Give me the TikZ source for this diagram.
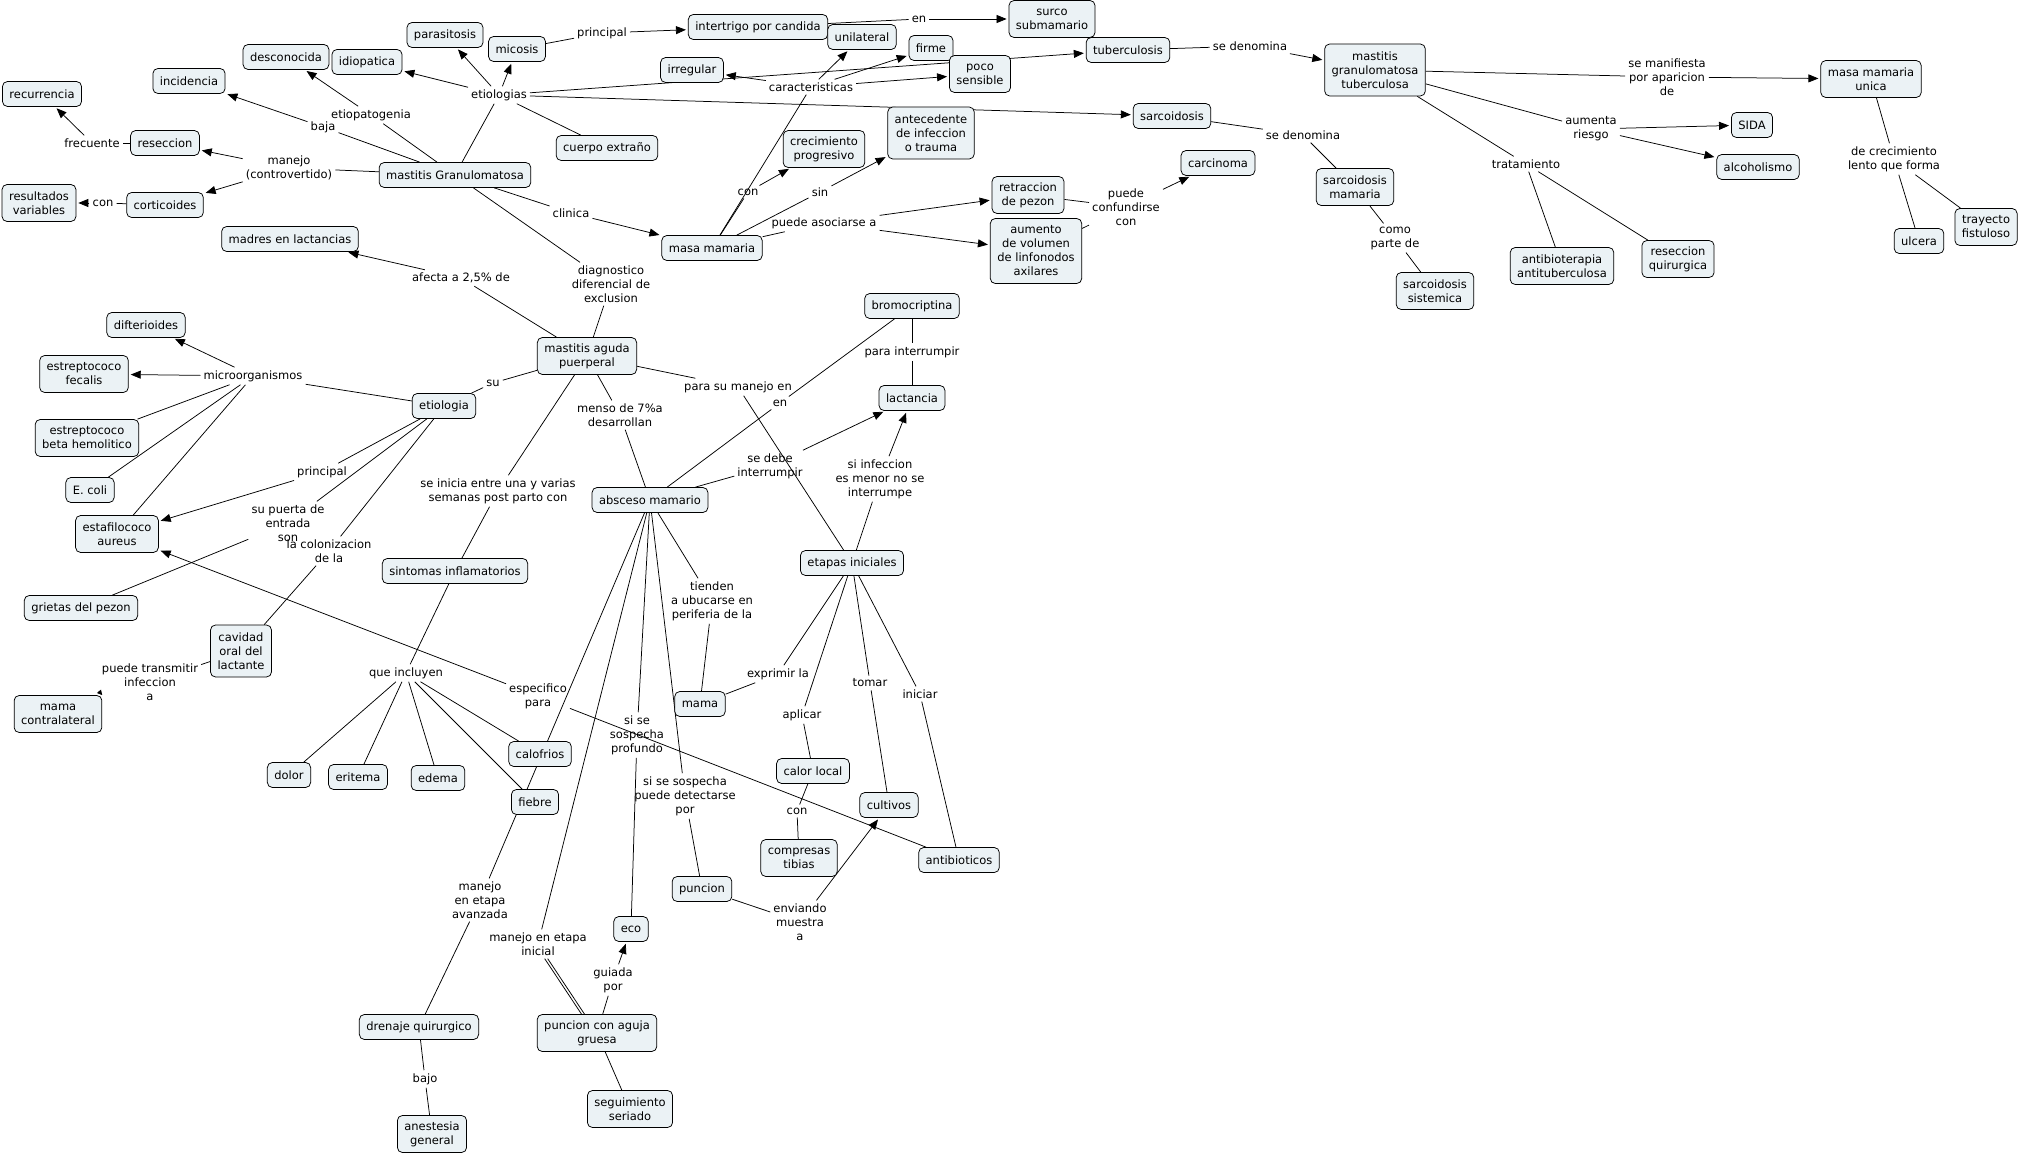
\documentclass[tikz,border=0pt]{standalone}
\usepackage{fontspec}
\setmainfont{DejaVu Sans}
\usetikzlibrary{arrows.meta}
\definecolor{cfill}{RGB}{235,242,245}
\pgfdeclarelayer{bgfill}
\pgfdeclarelayer{background}
\pgfsetlayers{bgfill,background,main}
\begin{document}
\begin{tikzpicture}[x=1pt,y=-1pt,
  every node/.style={font=\fontsize{11.5}{14}\selectfont},
  concept/.style={draw=black, fill=cfill, rounded corners=5pt, align=center, inner xsep=7pt, inner ysep=3pt, minimum height=25pt, line width=0.75pt},
  two/.style={minimum height=37pt},
  three/.style={minimum height=52pt},
  four/.style={minimum height=65pt},
  lbl/.style={align=center, inner sep=3pt},
  conn/.style={line width=0.75pt},
  arr/.style={conn, -{Triangle[length=10pt,width=8pt]}, shorten >=2pt},
  smallarr/.style={conn, -{Triangle[length=5pt,width=5pt]}},
]
\begin{pgfonlayer}{bgfill}
\fill[white] (0,0) rectangle (2022,1158);
\end{pgfonlayer}
\useasboundingbox (0,0) rectangle (2022,1158);

% ---------------- concepts ----------------
\node[concept] (rec) at (42,94) {recurrencia};
\node[concept] (desc) at (286,57) {desconocida};
\node[concept] (idio) at (367,62) {idiopatica};
\node[concept] (para) at (445,35) {parasitosis};
\node[concept] (mico) at (517,49) {micosis};
\node[concept] (inci) at (189,81) {incidencia};
\node[concept] (rese) at (165,143) {reseccion};
\node[concept] (cort) at (165,205) {corticoides};
\node[concept,two] (resv) at (39,203) {resultados\\variables};
\node[concept] (mg) at (455,175) {mastitis Granulomatosa};
\node[concept] (madr) at (290,239) {madres en lactancias};
\node[concept] (dift) at (146,325) {difterioides};
\node[concept,two] (efec) at (84,374) {estreptococo\\fecalis};
\node[concept] (etio) at (444,406) {etiologia};
\node[concept,two] (ebeta) at (87,438) {estreptococo\\beta hemolitico};
\node[concept] (ecoli) at (90,490) {E. coli};
\node[concept,two] (esta) at (117,534) {estafilococo\\aureus};
\node[concept] (grie) at (81,608) {grietas del pezon};
\node[concept,three] (cavi) at (241,651) {cavidad\\oral del\\lactante};
\node[concept,two] (mcon) at (58,714) {mama\\contralateral};
\node[concept] (sint) at (455,571) {sintomas inflamatorios};
\node[concept] (dolor) at (289,775) {dolor};
\node[concept] (erit) at (358,777) {eritema};
\node[concept] (edema) at (438,778) {edema};
\node[concept] (dren) at (419,1027) {drenaje quirurgico};
\node[concept,two] (anes) at (432,1134) {anestesia\\general};
\node[concept] (calo) at (540,754) {calofrios};
\node[concept] (fieb) at (535,802) {fiebre};
\node[concept,two] (pcag) at (597,1033) {puncion con aguja\\gruesa};
\node[concept,two] (segu) at (630,1109) {seguimiento\\seriado};
\node[concept] (eco) at (631,929) {eco};
\node[concept] (punc) at (702,889) {puncion};
\node[concept,two] (comp) at (799,858) {compresas\\tibias};
\node[concept] (calor) at (813,771) {calor local};
\node[concept] (cult) at (889,805) {cultivos};
\node[concept] (anti) at (959,860) {antibioticos};
\node[concept] (lact) at (912,398) {lactancia};
\node[concept] (absc) at (650,500) {absceso mamario};
\node[concept] (etap) at (852,563) {etapas iniciales};
\node[concept] (mama) at (700,704) {mama};
\node[concept,two] (map) at (587,356) {mastitis aguda\\puerperal};
\node[concept] (inter) at (758,27) {intertrigo por candida};
\node[concept] (unil) at (862,37) {unilateral};
\node[concept] (irre) at (692,70) {irregular};
\node[concept] (firm) at (931,48) {firme};
\node[concept,two] (poco) at (980,74) {poco\\sensible};
\node[concept] (cuer) at (607,148) {cuerpo extraño};
\node[concept,two] (crec) at (824,149) {crecimiento\\progresivo};
\node[concept,three] (ante) at (931,133) {antecedente\\de infeccion\\o trauma};
\node[concept] (mm) at (712,248) {masa mamaria};
\node[concept] (brom) at (912,306) {bromocriptina};
\node[concept,two] (surco) at (1052,19) {surco\\submamario};
\node[concept] (tube) at (1128,50) {tuberculosis};
\node[concept] (sarc) at (1172,116) {sarcoidosis};
\node[concept] (carc) at (1218,163) {carcinoma};
\node[concept,two] (retr) at (1028,195) {retraccion\\de pezon};
\node[concept,four] (aume) at (1036,251) {aumento\\de volumen\\de linfonodos\\axilares};
\node[concept,three] (mgt) at (1375,70) {mastitis\\granulomatosa\\tuberculosa};
\node[concept,two] (sarm) at (1355,187) {sarcoidosis\\mamaria};
\node[concept,two] (sars) at (1435,291) {sarcoidosis\\sistemica};
\node[concept,two] (mmu) at (1871,79) {masa mamaria\\unica};
\node[concept] (sida) at (1752,125) {SIDA};
\node[concept] (alco) at (1758,167) {alcoholismo};
\node[concept,two] (atb) at (1562,266) {antibioterapia\\antituberculosa};
\node[concept,two] (resq) at (1678,259) {reseccion\\quirurgica};
\node[concept] (ulc) at (1919,241) {ulcera};
\node[concept,two] (tray) at (1986,227) {trayecto\\fistuloso};

% ---------------- link labels ----------------
\node[lbl] (l_frec) at (92,143) {frecuente};
\node[lbl] (l_con1) at (103,203) {con};
\node[lbl] (l_man) at (289,168) {manejo\\(controvertido)};
\node[lbl] (l_baja) at (323,127) {baja};
\node[lbl] (l_etpg) at (371,115) {etiopatogenia};
\node[lbl] (l_etis) at (499,95) {etiologias};
\node[lbl] (l_afec) at (461,278) {afecta a 2,5\% de};
\node[lbl] (l_micr) at (253,376) {microorganismos};
\node[lbl] (l_su) at (493,383) {su};
\node[lbl] (l_prin1) at (602,33) {principal};
\node[lbl] (l_en1) at (919,19) {en};
\node[lbl] (l_car) at (811,87) {caracteristicas};
\node[lbl] (l_con2) at (748,192) {con};
\node[lbl] (l_sin) at (820,192) {sin};
\node[lbl] (l_clin) at (571,213) {clinica};
\node[lbl] (l_puas) at (824,223) {puede asociarse a};
\node[lbl] (l_diag) at (611,284) {diagnostico\\diferencial de\\exclusion};
\node[lbl] (l_pint) at (912,352) {para interrumpir};
\node[lbl] (l_psme) at (738,387) {para su manejo en};
\node[lbl] (l_en2) at (780,403) {en};
\node[lbl] (l_men) at (620,415) {menso de 7\%a\\desarrollan};
\node[lbl] (l_sdeb) at (770,466) {se debe\\interrumpir};
\node[lbl] (l_sinf) at (880,479) {si infeccion\\es menor no se\\interrumpe};
\node[lbl] (l_tien) at (712,601) {tienden\\a ubucarse en\\periferia de la};
\node[lbl] (l_expr) at (778,674) {exprimir la};
\node[lbl] (l_toma) at (870,683) {tomar};
\node[lbl] (l_inic) at (920,694) {iniciar};
\node[lbl] (l_apli) at (802,715) {aplicar};
\node[lbl] (l_ssp) at (637,735) {si se\\sospecha\\profundo};
\node[lbl] (l_espe) at (538,696) {especifico\\para};
\node[lbl] (l_prin2) at (322,472) {principal};
\node[lbl] (l_puer) at (288,523) {su puerta de\\entrada\\son};
\node[lbl] (l_colo) at (329,551) {la colonizacion\\de la};
\node[lbl] (l_sein) at (498,491) {se inicia entre una y varias\\semanas post parto con};
\node[lbl] (l_ptra) at (150,682) {puede transmitir\\infeccion\\a};
\node[lbl] (l_quei) at (406,673) {que incluyen};
\node[lbl] (l_mava) at (480,900) {manejo\\en etapa\\avanzada};
\node[lbl] (l_bajo) at (425,1079) {bajo};
\node[lbl] (l_mini) at (538,944) {manejo en etapa\\inicial};
\node[lbl] (l_guia) at (613,980) {guiada\\por};
\node[lbl] (l_sspd) at (685,796) {si se sospecha\\puede detectarse\\por};
\node[lbl] (l_con3) at (797,811) {con};
\node[lbl] (l_envi) at (800,922) {enviando\\muestra\\a};
\node[lbl] (l_sden1) at (1250,46) {se denomina};
\node[lbl] (l_sden2) at (1303,135) {se denomina};
\node[lbl] (l_pcon) at (1126,207) {puede\\confundirse\\con};
\node[lbl] (l_como) at (1395,238) {como\\parte de};
\node[lbl] (l_trat) at (1526,164) {tratamiento};
\node[lbl] (l_sman) at (1667,77) {se manifiesta\\por aparicion\\de};
\node[lbl] (l_aumr) at (1591,129) {aumenta\\riesgo};
\node[lbl] (l_decr) at (1894,159) {de crecimiento\\lento que forma};

% ---------------- connectors ----------------
\begin{pgfonlayer}{background}
% mastitis granulomatosa
\draw[conn] (mg) -- (l_etis);
\draw[arr] (l_etis) -- (para);
\draw[arr] (l_etis) -- (mico);
\draw[arr] (l_etis) -- (idio);
\draw[arr] (l_etis) -- (tube);
\draw[arr] (l_etis) -- (sarc);
\draw[conn] (l_etis) -- (cuer);
\draw[conn] (mg) -- (l_etpg);
\draw[arr] (l_etpg) -- (desc);
\draw[conn] (mg) -- (l_baja);
\draw[arr] (l_baja) -- (inci);
\draw[conn] (mg) -- (l_man);
\draw[arr] (l_man) -- (rese);
\draw[arr] (l_man) -- (cort);
\draw[conn] (rese) -- (l_frec);
\draw[arr] (l_frec) -- (rec);
\draw[conn] (cort) -- (l_con1);
\draw[arr] (l_con1) -- (resv);
\draw[conn] (mg) -- (l_clin);
\draw[arr] (l_clin) -- (mm);
\draw[conn] (mg) -- (l_diag);
\draw[conn] (l_diag) -- (map);
\draw[conn] (mico) -- (l_prin1);
\draw[arr] (l_prin1) -- (inter);
\draw[conn] (inter) -- (l_en1);
\draw[arr] (l_en1) -- (surco);
% masa mamaria
\draw[conn] (mm) -- (l_car);
\draw[arr] (l_car) -- (irre);
\draw[arr] (l_car) -- (unil);
\draw[arr] (l_car) -- (firm);
\draw[arr] (l_car) -- (poco);
\draw[conn] (mm) -- (l_con2);
\draw[arr] (l_con2) -- (crec);
\draw[conn] (mm) -- (l_sin);
\draw[arr] (l_sin) -- (ante);
\draw[conn] (mm) -- (l_puas);
\draw[arr] (l_puas) -- (retr);
\draw[arr] (l_puas) -- (aume);
\draw[conn] (retr) -- (l_pcon);
\draw[conn] (aume) -- (l_pcon);
\draw[arr] (l_pcon) -- (carc);
% tuberculosis / sarcoidosis
\draw[conn] (tube) -- (l_sden1);
\draw[arr] (l_sden1) -- (mgt);
\draw[conn] (sarc) -- (l_sden2);
\draw[conn] (l_sden2) -- (sarm);
\draw[conn] (sarm) -- (l_como);
\draw[conn] (l_como) -- (sars);
\draw[conn] (mgt) -- (l_sman);
\draw[arr] (l_sman) -- (mmu);
\draw[conn] (mgt) -- (l_aumr);
\draw[arr] (l_aumr) -- (sida);
\draw[arr] (l_aumr) -- (alco);
\draw[conn] (mgt) -- (l_trat);
\draw[conn] (l_trat) -- (atb);
\draw[conn] (l_trat) -- (resq);
\draw[conn] (mmu) -- (l_decr);
\draw[conn] (l_decr) -- (ulc);
\draw[conn] (l_decr) -- (tray);
% mastitis aguda puerperal
\draw[conn] (map) -- (l_afec);
\draw[arr] (l_afec) -- (madr);
\draw[conn] (map) -- (l_su);
\draw[conn] (l_su) -- (etio);
\draw[conn] (etio) -- (l_micr);
\draw[arr] (l_micr) -- (dift);
\draw[arr] (l_micr) -- (efec);
\draw[conn] (l_micr) -- (ebeta);
\draw[conn] (l_micr) -- (ecoli);
\draw[conn] (l_micr) -- (esta);
\draw[conn] (etio) -- (l_prin2);
\draw[arr] (l_prin2) -- (esta);
\draw[conn] (etio) -- (l_puer);
\draw[conn] (l_puer) -- (grie);
\draw[conn] (etio) -- (l_colo);
\draw[conn] (l_colo) -- (cavi);
\draw[conn] (cavi) -- (l_ptra);
\draw[smallarr] (l_ptra.190) -- (mcon.north east);
\draw[conn] (map) -- (l_sein);
\draw[conn] (l_sein) -- (sint);
\draw[conn] (sint) -- (l_quei);
\draw[conn] (l_quei) -- (dolor);
\draw[conn] (l_quei) -- (erit);
\draw[conn] (l_quei) -- (edema);
\draw[conn] (l_quei) -- (calo);
\draw[conn] (l_quei) -- (fieb);
\draw[conn] (map) -- (l_men);
\draw[conn] (l_men) -- (absc);
\draw[conn] (map) -- (l_psme);
\draw[conn] (l_psme) -- (etap);
\draw[conn] (absc) -- (l_en2);
\draw[conn] (l_en2) -- (brom);
\draw[conn] (brom) -- (l_pint);
\draw[conn] (l_pint) -- (lact);
\draw[conn] (absc) -- (l_sdeb);
\draw[arr] (l_sdeb) -- (lact);
\draw[conn] (etap) -- (l_sinf);
\draw[arr] (l_sinf) -- (lact);
\draw[conn] (etap) -- (l_expr);
\draw[conn] (l_expr) -- (mama);
\draw[conn] (absc) -- (l_tien);
\draw[conn] (l_tien) -- (mama);
\draw[conn] (etap) -- (l_apli);
\draw[conn] (l_apli) -- (calor);
\draw[conn] (calor) -- (l_con3);
\draw[conn] (l_con3) -- (comp);
\draw[conn] (etap) -- (l_toma);
\draw[conn] (l_toma) -- (cult);
\draw[conn] (etap) -- (l_inic);
\draw[conn] (l_inic) -- (anti);
\draw[conn] (anti) -- (l_espe);
\draw[arr] (l_espe) -- (esta);
\draw[conn] (absc) -- (l_ssp);
\draw[conn] (l_ssp) -- (eco);
\draw[conn] (absc) -- (l_sspd);
\draw[conn] (l_sspd) -- (punc);
\draw[conn] (punc) -- (l_envi);
\draw[arr] (l_envi) -- (cult);
\draw[conn] (absc) -- (l_mini);
\draw[conn] (l_mini) -- (pcag);
\draw[conn, transform canvas={xshift=-3pt}] (l_mini) -- (pcag);
\draw[conn] (pcag) -- (l_guia);
\draw[arr] (l_guia) -- (eco);
\draw[conn] (pcag) -- (segu);
\draw[conn] (absc) -- (l_mava);
\draw[conn] (l_mava) -- (dren);
\draw[conn] (dren) -- (l_bajo);
\draw[conn] (l_bajo) -- (anes);
\end{pgfonlayer}
\end{tikzpicture}
\end{document}
